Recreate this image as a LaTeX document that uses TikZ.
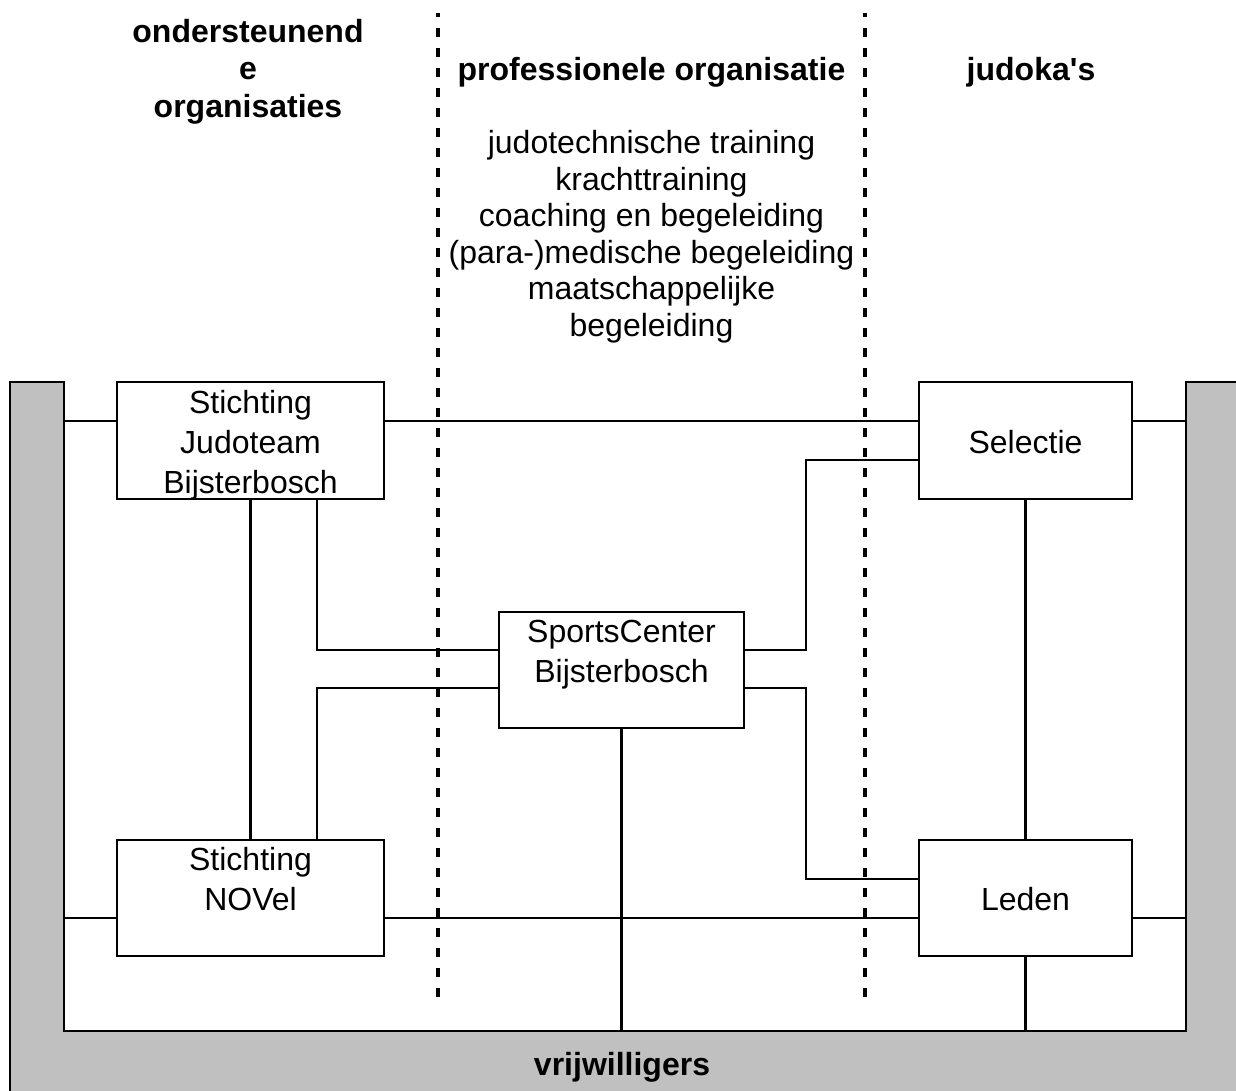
\documentclass[tikz,border=0pt]{standalone}
\usepackage{fontspec}
\setmainfont{Liberation Sans}[Ligatures=TeXOff]
\definecolor{bandgrey}{HTML}{C0C0C0}
\begin{document}
\begin{tikzpicture}[x=1pt,y=-1pt,
  box/.style={draw,line width=2pt,fill=white,inner sep=0pt},
  conn/.style={line width=2.8pt},
  divider/.style={line width=4pt,dash pattern=on 9pt off 11pt},
  txt/.style={anchor=base,inner sep=0pt,font=\fontsize{32pt}{37pt}\selectfont},
  head/.style={txt,font=\fontsize{32pt}{37pt}\selectfont\bfseries}]
\useasboundingbox (0,0) rectangle (1236,1090);
\clip (0,0) rectangle (1236,1090);
% grey band
\coordinate (bl) at (64,1031);
\coordinate (br) at (1186,1031);
\filldraw[fill=bandgrey,line width=2.5pt]
  (10,1100) -- (10,382) -- (64,382) -- (bl) -- (br) -- (1186,382) -- (1250,382) -- (1250,1100) -- cycle;
% boxes
\node[box,minimum width=267pt,minimum height=117pt] (jt) at (250.5,440.5) {};
\node[box,minimum width=267pt,minimum height=116pt] (nov) at (250.5,898) {};
\node[box,minimum width=245pt,minimum height=116pt] (sc) at (621.5,670) {};
\node[box,minimum width=213pt,minimum height=117pt] (sel) at (1025.5,440.5) {};
\node[box,minimum width=213pt,minimum height=116pt] (led) at (1025.5,898) {};
% connectors
\draw[conn] ([yshift=19.5pt]jt.west) -- ++(-53,0);
\draw[conn] ([yshift=19.5pt]jt.east) -- ([yshift=19.5pt]sel.west);
\draw[conn] ([yshift=19.5pt]sel.east) -- ++(54,0);
\draw[conn] ([yshift=-20pt]nov.west) -- ++(-53,0);
\draw[conn] ([yshift=-20pt]nov.east) -- ([yshift=-20pt]led.west);
\draw[conn] ([yshift=-20pt]led.east) -- ++(54,0);
\draw[conn] (jt) -- (nov);
\draw[conn] ([xshift=66.5pt]jt.south) |- ([yshift=20pt]sc.west);
\draw[conn] ([xshift=66.5pt]nov.north) |- ([yshift=-18pt]sc.west);
\draw[conn] ([yshift=20pt]sc.east) -- ++(61,0) |- ([yshift=-19.5pt]sel.west);
\draw[conn] ([yshift=-18pt]sc.east) -- ++(61,0) |- ([yshift=19pt]led.west);
\draw[conn] (sel) -- (led);
\draw[conn] (sc.south) -- (sc.south |- bl);
\draw[conn] (led.south) -- (led.south |- bl);
% dividers
\coordinate (d1t) at (438,13); \coordinate (d1b) at (438,997);
\coordinate (d2t) at (865,13); \coordinate (d2b) at (865,997);
\draw[divider,dash phase=5pt] (d1t) -- (d1b);
\draw[divider,dash phase=5pt] (d2t) -- (d2b);
% headings
\node[head] (h1a) at (248,42) {ondersteunend};
\node[head] (h1b) at (248,79.5) {e};
\node[head] (h1c) at (248,117) {organisaties};
\node[head] (h2) at (651.5,80) {professionele organisatie};
\node[head] (h3) at (1031,80) {judoka's};
\node[head] (vw) at (622,1075) {vrijwilligers};
% activities
\node[txt] (a1) at (651.5,153.5) {judotechnische training};
\node[txt] (a2) at (651.5,190) {krachttraining};
\node[txt] (a3) at (651.5,226.5) {coaching en begeleiding};
\node[txt] (a4) at (651.5,263) {(para-)medische begeleiding};
\node[txt] (a5) at (651.5,299.5) {maatschappelijke};
\node[txt] (a6) at (651.5,336) {begeleiding};
% box texts
\node[txt] (jt1) at (250.5,413) {Stichting};
\node[txt] (jt2) at (250.5,453) {Judoteam};
\node[txt] (jt3) at (250.5,493) {Bijsterbosch};
\node[txt] (nv1) at (250.5,870) {Stichting};
\node[txt] (nv2) at (250.5,910) {NOVel};
\node[txt] (sc1) at (621.5,642) {SportsCenter};
\node[txt] (sc2) at (621.5,682) {Bijsterbosch};
\node[txt] (se1) at (1025.5,453) {Selectie};
\node[txt] (le1) at (1025.5,910) {Leden};
\end{tikzpicture}
\end{document}
